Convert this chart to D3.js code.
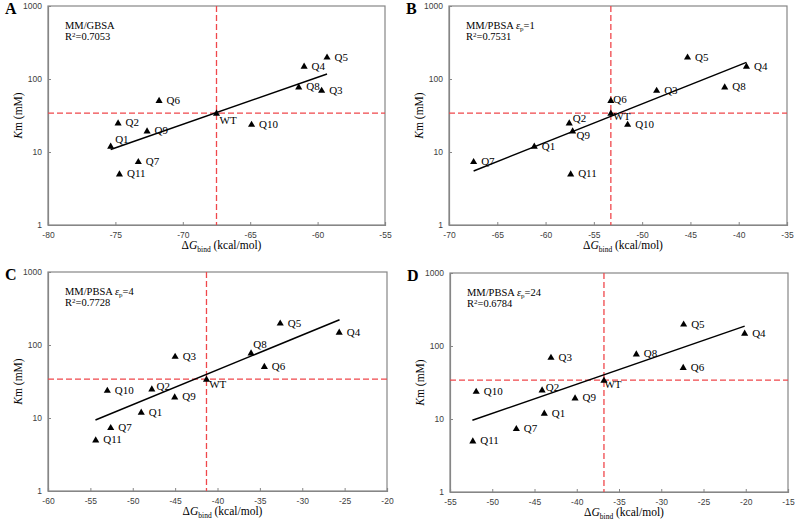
<!DOCTYPE html>
<html>
<head>
<meta charset="utf-8">
<script src="https://cdn.jsdelivr.net/npm/d3@7"></script>
<style>
  html, body { margin: 0; padding: 0; background: #fff; }
  svg { display: block; }
</style>
</head>
<body>
<svg id="chart" width="795" height="523"></svg>
<script>
// ---------------- DATA ----------------
const mutants = ["Q1","Q2","Q3","Q4","Q5","Q6","Q7","Q8","Q9","Q10","Q11","WT"];
const kmValues = [12, 25, 70, 150, 200, 51, 7.4, 78, 19.5, 24, 5, 34];

const dGbindGBSA   = [-75.35, -74.8, -59.7, -61.0, -59.3, -71.76, -73.3, -61.4, -72.65, -64.9, -74.7, -67.5];
const dGbindPBSA1  = [-61.17, -57.55, -48.5, -39.2, -45.3, -53.24, -67.45, -41.45, -57.2, -51.5, -57.4, -53.24];
const dGbindPBSA4  = [-49.0, -47.75, -45.0, -25.64, -32.6, -34.47, -52.6, -36.04, -45.05, -53.0, -54.37, -41.3];
const dGbindPBSA24 = [-43.84, -44.1, -43.05, -20.13, -27.35, -27.4, -47.15, -32.95, -40.2, -51.9, -52.3, -36.78];

// trend line end points [dG, Km]
const trendGBSA   = [[-75.35, 10.8], [-59.3, 117]];
const trendPBSA1  = [[-67.45, 5.5], [-39.2, 169]];
const trendPBSA4  = [[-54.4, 9.4], [-25.6, 222]];
const trendPBSA24 = [[-52.35, 9.6], [-20.13, 187]];

const panelLetters = ["A", "B", "C", "D"];
const methodNames = ["MM/GBSA", "MM/PBSA", "MM/PBSA", "MM/PBSA"];
const epsilonValues = [null, "1", "4", "24"];
const r2Values = ["0.7053", "0.7531", "0.7728", "0.6784"];
const xDomains = [[-80, -55], [-70, -35], [-60, -20], [-55, -15]];
const yTicks = [1, 10, 100, 1000];

// ---------------- LAYOUT ----------------
const panelBoxes = [
  {x0: 48,  x1: 385, y0: 6,   y1: 225},
  {x0: 449, x1: 787, y0: 6,   y1: 225},
  {x0: 48,  x1: 387, y0: 272, y1: 491},
  {x0: 450, x1: 788, y0: 273, y1: 492}
];
// label nudges (dx, dy in px relative to marker centre) for crowded labels
const defaultNudge = [7.5, 3.5];
const nudges = [
  {Q1: [4.5, -3.5], WT: [3, 11]},
  {WT: [2.5, 6.5], Q2: [3.5, -0.5], Q9: [4, 8.5], Q6: [2.5, 3]},
  {WT: [2.7, 8.7], Q8: [2.3, -5.3], Q2: [4.7, 1.3]},
  {WT: [0.5, 8], Q2: [3.7, 0.7]}
];

const xSeries = [dGbindGBSA, dGbindPBSA1, dGbindPBSA4, dGbindPBSA24];
const trends = [trendGBSA, trendPBSA1, trendPBSA4, trendPBSA24];

const serif = "'Liberation Serif', 'Times New Roman', serif";
const sans = "'Liberation Sans Narrow', 'Liberation Sans', Arial, sans-serif";

const svg = d3.select("#chart");

panelBoxes.forEach((box, p) => {
  const g = svg.append("g");
  const x = d3.scaleLinear().domain(xDomains[p]).range([box.x0, box.x1]);
  const y = d3.scaleLog().domain([1, 1000]).range([box.y1, box.y0]);

  // frame
  g.append("rect")
    .attr("x", box.x0).attr("y", box.y0)
    .attr("width", box.x1 - box.x0).attr("height", box.y1 - box.y0)
    .attr("fill", "none").attr("stroke", "#868686").attr("stroke-width", 1.2);

  // x axis
  const xTickVals = d3.range(xDomains[p][0], xDomains[p][1] + 0.1, 5);
  const xAxis = d3.axisBottom(x).tickValues(xTickVals).tickSize(-3).tickPadding(7)
    .tickFormat(d => d3.format("d")(d).replace("−", "-"));
  const gx = g.append("g").attr("transform", `translate(0,${box.y1})`).call(xAxis);
  gx.select(".domain").attr("stroke", "#868686").attr("stroke-width", 1.2);
  gx.selectAll(".tick line").attr("stroke", "#868686");
  gx.selectAll(".tick text").attr("font-family", sans).attr("font-size", 8.5).attr("fill", "#404040");

  // y axis
  const yAxis = d3.axisLeft(y).tickValues(yTicks).tickSize(-3).tickPadding(6)
    .tickFormat(d3.format("d"));
  const gy = g.append("g").attr("transform", `translate(${box.x0},0)`).call(yAxis);
  gy.select(".domain").attr("stroke", "#868686").attr("stroke-width", 1.2);
  gy.selectAll(".tick line").attr("stroke", "#868686");
  gy.selectAll(".tick text").attr("font-family", sans).attr("font-size", 8.5).attr("fill", "#404040");

  // reference dashed lines through WT
  const wtIdx = mutants.indexOf("WT");
  g.append("line")
    .attr("x1", x(xSeries[p][wtIdx])).attr("x2", x(xSeries[p][wtIdx]))
    .attr("y1", box.y0).attr("y2", box.y1)
    .attr("stroke", "#f0474b").attr("stroke-width", 1.3).attr("stroke-dasharray", "6,3");
  g.append("line")
    .attr("x1", box.x0).attr("x2", box.x1)
    .attr("y1", y(kmValues[wtIdx])).attr("y2", y(kmValues[wtIdx]))
    .attr("stroke", "#f0474b").attr("stroke-width", 1.3).attr("stroke-dasharray", "6,3");

  // trend line
  g.append("path")
    .datum(trends[p])
    .attr("d", d3.line().x(d => x(d[0])).y(d => y(d[1])))
    .attr("stroke", "#000").attr("stroke-width", 1.5).attr("fill", "none");

  // points
  const pts = mutants.map((m, i) => ({name: m, dg: xSeries[p][i], km: kmValues[i]}));
  g.selectAll(".pt").data(pts).enter().append("path")
    .attr("d", d3.symbol().type(d3.symbolTriangle).size(22))
    .attr("transform", d => `translate(${x(d.dg)},${y(d.km) + 0.5})`)
    .attr("fill", "#000");

  g.selectAll(".lbl").data(pts).enter().append("text")
    .attr("x", d => x(d.dg) + (nudges[p][d.name] || defaultNudge)[0])
    .attr("y", d => y(d.km) + (nudges[p][d.name] || defaultNudge)[1])
    .attr("font-family", serif).attr("font-size", 11).attr("fill", "#000")
    .text(d => d.name);

  // annotation
  const t1 = g.append("text")
    .attr("x", box.x0 + 17).attr("y", box.y0 + 22.5)
    .attr("font-family", serif).attr("font-size", 10.5);
  t1.append("tspan").text(methodNames[p]);
  if (epsilonValues[p]) {
    t1.append("tspan").text(" ");
    t1.append("tspan").attr("font-style", "italic").text("ε");
    t1.append("tspan").attr("font-size", 7).attr("dy", 2.5).text("p");
    t1.append("tspan").attr("dy", -2.5).text("=" + epsilonValues[p]);
  }
  const t2 = g.append("text")
    .attr("x", box.x0 + 17).attr("y", box.y0 + 34)
    .attr("font-family", serif).attr("font-size", 10.5);
  t2.append("tspan").text("R");
  t2.append("tspan").attr("font-size", 7).attr("dy", -3.5).text("2");
  t2.append("tspan").attr("dy", 3.5).text("=" + r2Values[p]);

  // x title
  const xt = g.append("text")
    .attr("x", (box.x0 + box.x1) / 2 + 5).attr("y", box.y1 + 24)
    .attr("text-anchor", "middle")
    .attr("font-family", serif).attr("font-size", 11.5);
  xt.append("tspan").text("Δ");
  xt.append("tspan").attr("font-style", "italic").text("G");
  xt.append("tspan").attr("font-size", 7.5).attr("dy", 2.5).text("bind");
  xt.append("tspan").attr("dy", -2.5).text(" (kcal/mol)");

  // y title
  const cy = (box.y0 + box.y1) / 2;
  const yt = g.append("text")
    .attr("transform", `translate(${box.x0 - 26},${cy}) rotate(-90)`)
    .attr("text-anchor", "middle")
    .attr("font-family", serif).attr("font-size", 11.5);
  yt.append("tspan").attr("font-style", "italic").text("K");
  yt.append("tspan").text("m (mM)");

  // panel letter
  g.append("text")
    .attr("x", box.x0 - 43).attr("y", box.y0 + 8)
    .attr("font-family", serif).attr("font-weight", "bold").attr("font-size", 16)
    .text(panelLetters[p]);
});
</script>
</body>
</html>
